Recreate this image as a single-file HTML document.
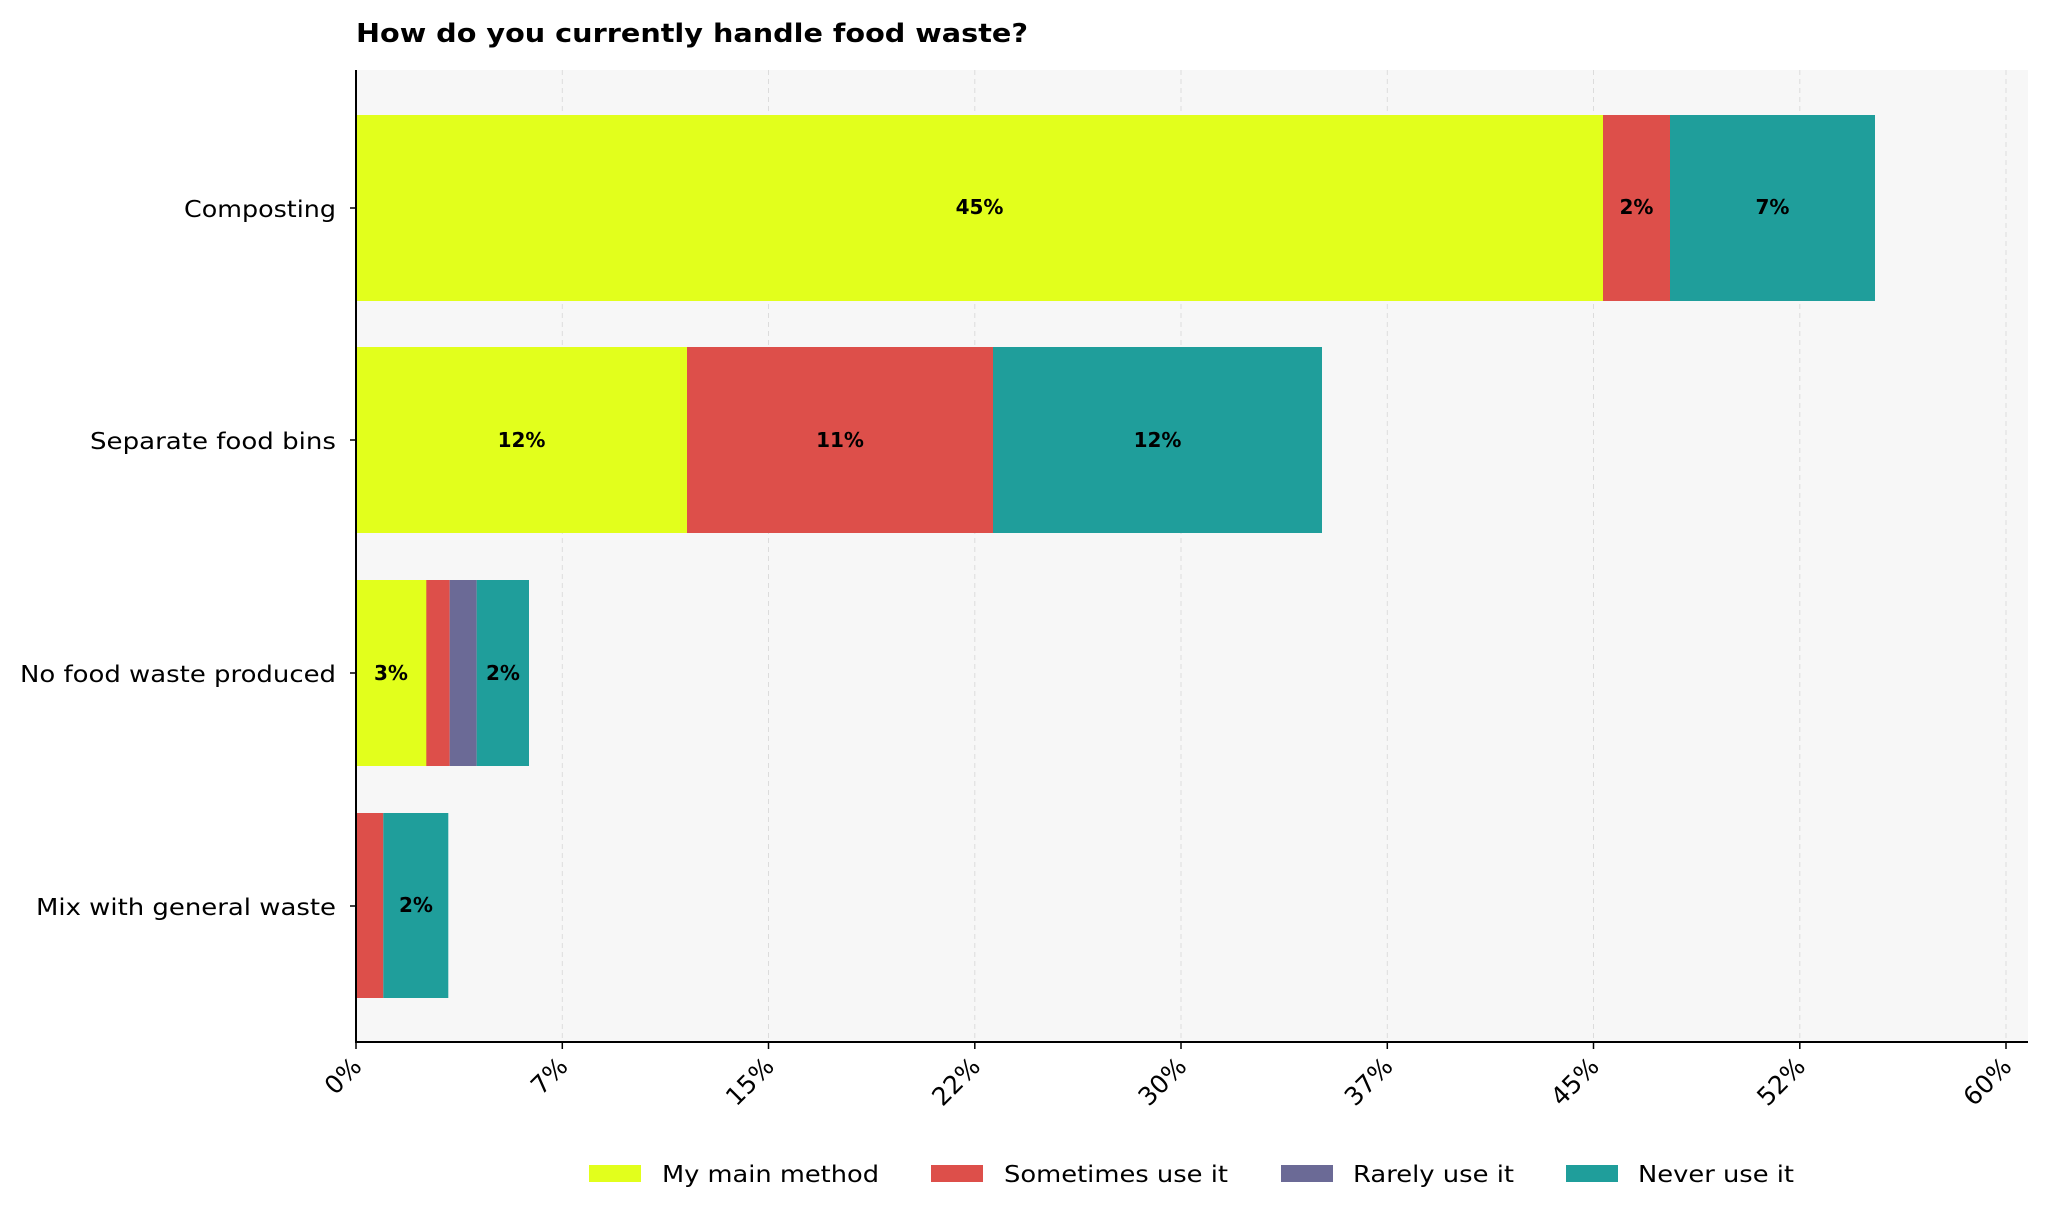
<!DOCTYPE html>
<html><head><meta charset="utf-8"><style>
html,body{margin:0;padding:0;background:#fff;}
svg{display:block;font-family:"DejaVu Sans","Liberation Sans",sans-serif;}
</style></head><body>
<svg width="2048" height="1219" viewBox="0 0 2048 1219" xmlns="http://www.w3.org/2000/svg">
<rect x="0" y="0" width="2048" height="1219" fill="#fff"/>
<rect x="356" y="70" width="1672" height="972" fill="#f7f7f7"/>
<g stroke="#dcdcdc" stroke-width="1" stroke-dasharray="5,4">
<line x1="562.3" y1="70" x2="562.3" y2="1042"/>
<line x1="768.5" y1="70" x2="768.5" y2="1042"/>
<line x1="974.8" y1="70" x2="974.8" y2="1042"/>
<line x1="1181" y1="70" x2="1181" y2="1042"/>
<line x1="1387.3" y1="70" x2="1387.3" y2="1042"/>
<line x1="1593.5" y1="70" x2="1593.5" y2="1042"/>
<line x1="1799.8" y1="70" x2="1799.8" y2="1042"/>
<line x1="2006" y1="70" x2="2006" y2="1042"/>
</g>
<rect x="356" y="115" width="1247" height="186" fill="#e2ff1c"/>
<rect x="1603" y="115" width="67" height="186" fill="#dd4f4a"/>
<rect x="1670" y="115" width="205" height="186" fill="#1f9e9b"/>
<rect x="356" y="347" width="331" height="186" fill="#e2ff1c"/>
<rect x="687" y="347" width="306" height="186" fill="#dd4f4a"/>
<rect x="993" y="347" width="329" height="186" fill="#1f9e9b"/>
<rect x="356" y="580" width="70.5" height="186" fill="#e2ff1c"/>
<rect x="426.3" y="580" width="23.4" height="186" fill="#dd4f4a"/>
<rect x="449.7" y="580" width="27" height="186" fill="#6b6a96"/>
<rect x="476.7" y="580" width="52.3" height="186" fill="#1f9e9b"/>
<rect x="356" y="813" width="27.3" height="185" fill="#dd4f4a"/>
<rect x="383.3" y="813" width="65" height="185" fill="#1f9e9b"/>
<g font-weight="bold" font-size="20" text-anchor="middle" fill="#000">
<text x="979.5" y="214">45%</text>
<text x="1636.5" y="214">2%</text>
<text x="1772.5" y="214">7%</text>
<text x="521.5" y="447">12%</text>
<text x="840" y="447">11%</text>
<text x="1157.5" y="447">12%</text>
<text x="391" y="680">3%</text>
<text x="503" y="680">2%</text>
<text x="416" y="912">2%</text>
</g>
<line x1="356" y1="70" x2="356" y2="1043" stroke="#000" stroke-width="2"/>
<line x1="355" y1="1042" x2="2028" y2="1042" stroke="#000" stroke-width="2"/>
<g stroke="#000" stroke-width="1.5">
<line x1="350" y1="208" x2="356" y2="208"/>
<line x1="350" y1="440" x2="356" y2="440"/>
<line x1="350" y1="673" x2="356" y2="673"/>
<line x1="350" y1="906" x2="356" y2="906"/>
<line x1="356" y1="1042" x2="356" y2="1049"/>
<line x1="562.3" y1="1042" x2="562.3" y2="1049"/>
<line x1="768.5" y1="1042" x2="768.5" y2="1049"/>
<line x1="974.8" y1="1042" x2="974.8" y2="1049"/>
<line x1="1181" y1="1042" x2="1181" y2="1049"/>
<line x1="1387.3" y1="1042" x2="1387.3" y2="1049"/>
<line x1="1593.5" y1="1042" x2="1593.5" y2="1049"/>
<line x1="1799.8" y1="1042" x2="1799.8" y2="1049"/>
<line x1="2006" y1="1042" x2="2006" y2="1049"/>
</g>
<g font-size="23" text-anchor="end" fill="#000">
<text x="336" y="217" textLength="152" lengthAdjust="spacingAndGlyphs">Composting</text>
<text x="336" y="449" textLength="246" lengthAdjust="spacingAndGlyphs">Separate food bins</text>
<text x="336" y="682" textLength="316" lengthAdjust="spacingAndGlyphs">No food waste produced</text>
<text x="336" y="915" textLength="300" lengthAdjust="spacingAndGlyphs">Mix with general waste</text>
</g>
<g font-size="25" text-anchor="end" fill="#000">
<text transform="translate(363,1068) rotate(-45)">0%</text>
<text transform="translate(569.3,1068) rotate(-45)">7%</text>
<text transform="translate(775.5,1068) rotate(-45)">15%</text>
<text transform="translate(981.8,1068) rotate(-45)">22%</text>
<text transform="translate(1188,1068) rotate(-45)">30%</text>
<text transform="translate(1394.3,1068) rotate(-45)">37%</text>
<text transform="translate(1600.5,1068) rotate(-45)">45%</text>
<text transform="translate(1806.8,1068) rotate(-45)">52%</text>
<text transform="translate(2013,1068) rotate(-45)">60%</text>
</g>
<text x="356" y="42" font-size="26" font-weight="bold" fill="#000" textLength="672" lengthAdjust="spacingAndGlyphs">How do you currently handle food waste?</text>
<rect x="589" y="1165" width="52" height="17" fill="#e2ff1c"/>
<rect x="931" y="1165" width="52" height="17" fill="#dd4f4a"/>
<rect x="1281" y="1165" width="52" height="17" fill="#6b6a96"/>
<rect x="1566" y="1165" width="52" height="17" fill="#1f9e9b"/>
<g font-size="23" fill="#000">
<text x="662" y="1182" textLength="217" lengthAdjust="spacingAndGlyphs">My main method</text>
<text x="1004" y="1182" textLength="224" lengthAdjust="spacingAndGlyphs">Sometimes use it</text>
<text x="1353" y="1182" textLength="161" lengthAdjust="spacingAndGlyphs">Rarely use it</text>
<text x="1638" y="1182" textLength="156" lengthAdjust="spacingAndGlyphs">Never use it</text>
</g>
</svg>
</body></html>
